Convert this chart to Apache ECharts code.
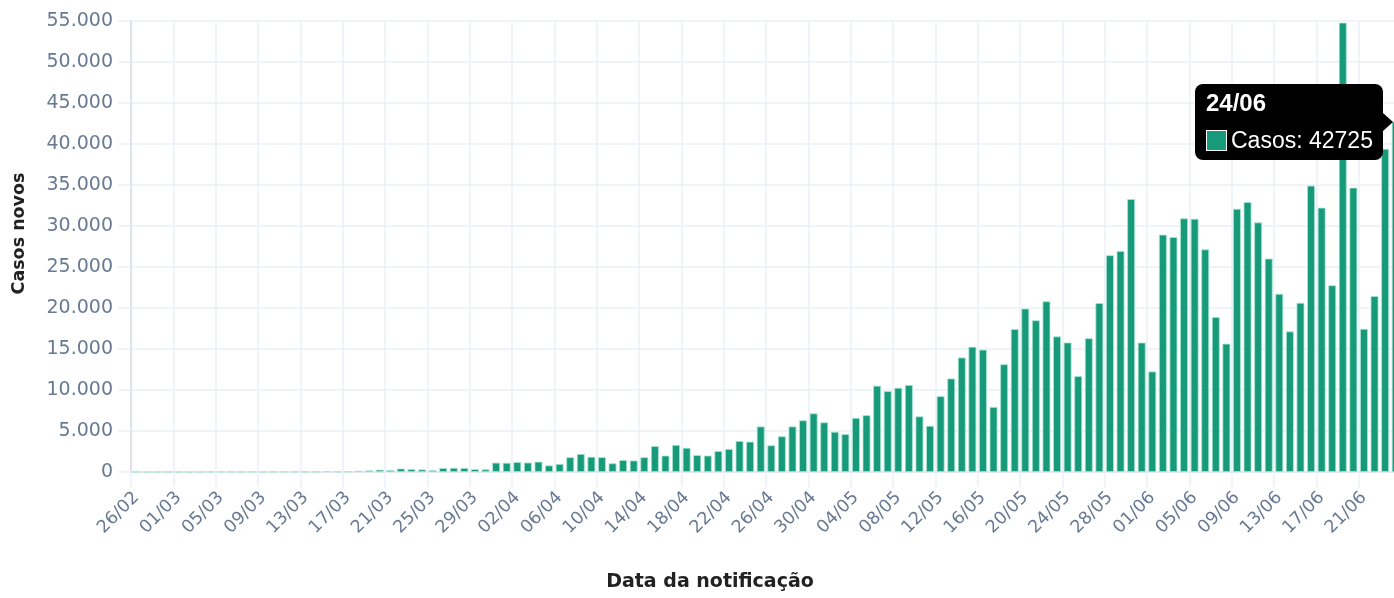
<!DOCTYPE html>
<html>
<head>
<meta charset="utf-8">
<script src="https://cdn.jsdelivr.net/npm/echarts@6/dist/echarts.min.js"></script>
<style>
html,body{margin:0;padding:0;background:#fff;overflow:hidden}
#c{width:1394px;height:598px}
</style>
</head>
<body>
<div id="c"></div>
<script>
const categories = [
  '26/02','27/02','28/02','29/02',
  '01/03','02/03','03/03','04/03','05/03','06/03','07/03','08/03','09/03','10/03',
  '11/03','12/03','13/03','14/03','15/03','16/03','17/03','18/03','19/03','20/03',
  '21/03','22/03','23/03','24/03','25/03','26/03','27/03','28/03','29/03','30/03','31/03',
  '01/04','02/04','03/04','04/04','05/04','06/04','07/04','08/04','09/04','10/04',
  '11/04','12/04','13/04','14/04','15/04','16/04','17/04','18/04','19/04','20/04',
  '21/04','22/04','23/04','24/04','25/04','26/04','27/04','28/04','29/04','30/04',
  '01/05','02/05','03/05','04/05','05/05','06/05','07/05','08/05','09/05','10/05',
  '11/05','12/05','13/05','14/05','15/05','16/05','17/05','18/05','19/05','20/05',
  '21/05','22/05','23/05','24/05','25/05','26/05','27/05','28/05','29/05','30/05','31/05',
  '01/06','02/06','03/06','04/06','05/06','06/06','07/06','08/06','09/06','10/06',
  '11/06','12/06','13/06','14/06','15/06','16/06','17/06','18/06','19/06','20/06',
  '21/06','22/06','23/06','24/06'
];

const casos = [
  1, 0, 0, 1,
  0, 0, 0, 1, 5, 5, 6, 6, 0, 9,
  18, 25, 21, 23, 79, 34, 57, 137, 193, 283,
  224, 418, 345, 310, 232, 482, 502, 487, 352, 323, 1138,
  1119, 1208, 1150, 1260, 800, 980, 1800, 2200, 1850, 1800,
  1060, 1450, 1400, 1800, 3150, 2000, 3300, 2950, 2060, 2000,
  2550, 2800, 3780, 3700, 5550, 3250, 4350, 5550, 6300, 7150,
  6050, 4900, 4620, 6600, 6920, 10520, 9850, 10270, 10610, 6780,
  5630, 9240, 11400, 13960, 15270, 14920, 7930, 13135, 17420, 19930,
  18500, 20810, 16530, 15790, 11690, 16310, 20600, 26430, 26950, 33280, 15780,
  12260, 28940, 28650, 30930, 30880, 27150, 18905, 15650, 32100, 32920,
  30430, 26020, 21730, 17140, 20630, 34920, 32230, 22765, 54800, 34670,
  17450, 21450, 39410, 42725
];

const seriesName = 'Casos';
const xAxisTitle = 'Data da notificação';
const yAxisTitle = 'Casos novos';
const yMin = 0, yMax = 55000, yStep = 5000;
const tooltipIndex = 119;

const barColor = '#179a7a';
const labelColor = '#687a93';
const gridColor = '#ebf0f6';

function fmtThousands(v) {
  return String(v).replace(/\B(?=(\d{3})+(?!\d))/g, '.');
}

const chart = echarts.init(document.getElementById('c'), null, {renderer: 'canvas'});

chart.setOption({
  animation: false,
  backgroundColor: '#fff',
  grid: {left: 131, top: 21, width: 1270, height: 451, containLabel: false, outerBoundsMode: 'none'},
  tooltip: {
    trigger: 'item',
    triggerOn: 'none',
    alwaysShowContent: true,
    transitionDuration: 0,
    backgroundColor: '#000',
    borderColor: '#000',
    borderWidth: 0,
    borderRadius: 8,
    padding: [5, 10, 5, 11],
    extraCssText: 'box-shadow:none;',
    position: function (point, params, dom, rect, size) {
      const px = chart.convertToPixel({gridIndex: 0}, [params.dataIndex, params.value]);
      return [px[0] - 13 - size.contentSize[0], px[1] - size.contentSize[1] / 2];
    },
    formatter: function (p) {
      return '<div style="position:absolute;right:-10px;top:50%;margin-top:-9px;width:0;height:0;border-left:10px solid #000;border-top:9px solid transparent;border-bottom:9px solid transparent;"></div>' +
        '<div style="font-family:\'Liberation Sans\',Arial,sans-serif;color:#fff;">' +
        '<div style="font-weight:bold;font-size:24px;line-height:28px;">' + p.name + '</div>' +
        '<div style="margin-top:8px;line-height:30px;font-size:23px;display:flex;align-items:center;">' +
        '<span style="display:inline-block;width:19px;height:19px;background:' + barColor + ';border:1px solid #fff;margin-right:4px;"></span>' +
        p.seriesName + ': ' + p.value + '</div></div>';
    }
  },
  xAxis: {
    type: 'category',
    data: categories,
    boundaryGap: true,
    name: xAxisTitle,
    nameLocation: 'middle',
    nameGap: 101,
    nameTextStyle: {fontFamily: 'DejaVu Sans', fontWeight: 'bold', fontSize: 19, color: '#222', padding: [0, 112, 0, 0]},
    axisLine: {show: true, lineStyle: {color: '#e3e8ee', width: 1.5}},
    axisTick: {show: true, interval: 3, length: 15, lineStyle: {color: gridColor, width: 1.5}},
    axisLabel: {interval: 3, rotate: 45, margin: 23, color: labelColor, fontFamily: 'DejaVu Sans', fontSize: 17.5},
    splitLine: {show: true, interval: 3, lineStyle: {color: gridColor, width: 1.5}}
  },
  yAxis: {
    type: 'value',
    min: yMin,
    max: yMax,
    interval: yStep,
    name: yAxisTitle,
    nameLocation: 'middle',
    nameGap: 103,
    nameRotate: 90,
    nameTextStyle: {fontFamily: 'DejaVu Sans', fontWeight: 'bold', fontSize: 17.5, color: '#222', padding: [0, 0, 0, 26]},
    axisLine: {show: true, lineStyle: {color: '#d8dde3', width: 1.5}},
    axisTick: {show: true, length: 13, lineStyle: {color: gridColor, width: 1.5}},
    axisLabel: {margin: 18, color: labelColor, fontFamily: 'DejaVu Sans', fontSize: 19, formatter: fmtThousands},
    splitLine: {show: true, lineStyle: {color: gridColor, width: 1.5}}
  },
  series: [{
    name: seriesName,
    type: 'bar',
    data: casos,
    barWidth: '74%',
    itemStyle: {color: barColor, borderColor: '#a6e5d0', borderWidth: 0.8},
    emphasis: {disabled: true}
  }]
});

chart.dispatchAction({type: 'showTip', seriesIndex: 0, dataIndex: tooltipIndex});
setTimeout(function () {
  chart.dispatchAction({type: 'showTip', seriesIndex: 0, dataIndex: tooltipIndex});
}, 60);
</script>
</body>
</html>
